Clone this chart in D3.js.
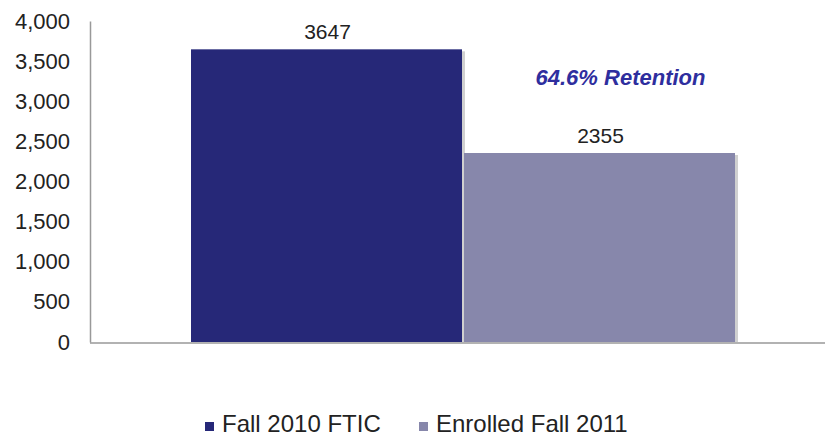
<!DOCTYPE html>
<html>
<head>
<meta charset="utf-8">
<script src="https://cdn.jsdelivr.net/npm/d3@7"></script>
<style>
  body { margin: 0; background: #fff; }
  svg { display: block; font-family: 'Liberation Sans', Arial, sans-serif; }
</style>
</head>
<body>
<div id="chart"></div>
<script>
const categories = ['Retention']
const seriesNames = ['Fall 2010 FTIC', 'Enrolled Fall 2011']
const seriesValues = [3647, 2355]
const yTicks = [0, 500, 1000, 1500, 2000, 2500, 3000, 3500, 4000]
const annotation = '64.6% Retention'

const colors = ['#262878', '#8787ab']
const width = 825
const height = 438
const plotLeft = 90
const plotTop = 21
const plotBottom = 342

const svg = d3.select('#chart').append('svg')
  .attr('width', width).attr('height', height)

const y = d3.scaleLinear().domain([0, 4000]).range([plotBottom, plotTop])
const x0 = d3.scaleBand().domain(categories).range([plotLeft, 838]).paddingInner(0).paddingOuter(0.185)
const x1 = d3.scaleBand().domain(seriesNames).range([0, x0.bandwidth()])

// y axis
const yAxis = svg.append('g')
  .attr('transform', 'translate(' + plotLeft + ',0)')
  .call(d3.axisLeft(y).tickValues(yTicks).tickSize(0).tickPadding(20).tickFormat(d3.format(',')))
yAxis.select('.domain').attr('stroke', '#999').attr('stroke-width', 1.5)
yAxis.selectAll('text')
  .attr('font-family', "'Liberation Sans', Arial, sans-serif")
  .attr('font-size', 22)
  .attr('fill', '#222')

// bars
const g = svg.append('g')
  .attr('transform', 'translate(' + x0(categories[0]) + ',0)')

g.selectAll('rect.shadow')
  .data(seriesValues)
  .enter()
  .append('rect')
  .attr('class', 'shadow')
  .attr('x', (d, i) => x1(seriesNames[i]) + 2)
  .attr('y', d => y(d) + 2)
  .attr('width', x1.bandwidth() - 1)
  .attr('height', d => plotBottom - y(d) - 2)
  .attr('fill', '#d0d0d0')

g.selectAll('rect.bar')
  .data(seriesValues)
  .enter()
  .append('rect')
  .attr('class', 'bar')
  .attr('x', (d, i) => x1(seriesNames[i]))
  .attr('y', d => y(d))
  .attr('width', x1.bandwidth() - 2)
  .attr('height', d => plotBottom - y(d))
  .attr('fill', (d, i) => colors[i])

g.selectAll('text.val')
  .data(seriesValues)
  .enter()
  .append('text')
  .attr('class', 'val')
  .attr('x', (d, i) => x1(seriesNames[i]) + x1.bandwidth() / 2)
  .attr('y', d => y(d) - 10)
  .attr('text-anchor', 'middle')
  .attr('font-size', 21)
  .attr('fill', '#222')
  .text(d => d)

// x baseline
svg.append('line')
  .attr('x1', plotLeft).attr('x2', width)
  .attr('y1', plotBottom + 1).attr('y2', plotBottom + 1)
  .attr('stroke', '#999').attr('stroke-width', 1.5)

// annotation
svg.append('text')
  .attr('x', x0(categories[0]) + x1(seriesNames[1]) + x1.bandwidth() / 2 + 20)
  .attr('y', y(3200))
  .attr('text-anchor', 'middle')
  .attr('font-size', 22)
  .attr('font-weight', 'bold')
  .attr('font-style', 'italic')
  .attr('fill', '#2e2e9e')
  .text(annotation)

// legend
const legendX = [205, 419]
const legend = svg.selectAll('g.legend')
  .data(seriesNames)
  .enter()
  .append('g')
  .attr('class', 'legend')
  .attr('transform', (d, i) => 'translate(' + legendX[i] + ',432)')
legend.append('rect')
  .attr('x', 0).attr('y', -10).attr('width', 9).attr('height', 9)
  .attr('fill', (d, i) => colors[i])
legend.append('text')
  .attr('x', 17).attr('y', 0)
  .attr('font-size', 24)
  .attr('fill', '#222')
  .text(d => d)
</script>
</body>
</html>
